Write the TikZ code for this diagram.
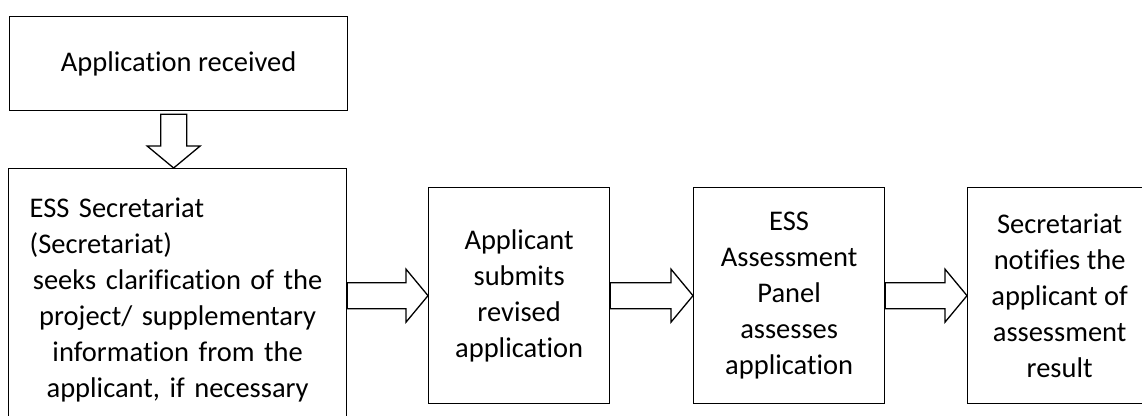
\documentclass[tikz,border=0pt]{standalone}
\usepackage{fontspec}
\setmainfont{Carlito}[Ligatures=CommonOff]
\usetikzlibrary{calc}

\tikzset{
  box/.style={draw, line width=1.3pt, anchor=north west, align=center,
    minimum height=216, font=\fontsize{28.5}{36}\selectfont},
  blockline/.style={draw, line width=1.3pt, fill=white}
}

% hollow block arrow from one point to another
\newcommand{\hollowarrow}[2]{%
  \path[blockline] let \p1=(#1), \p2=(#2),
    \n1={veclen(\x2-\x1,\y2-\y1)}, \n2={atan2(\y2-\y1,\x2-\x1)} in
    [shift={(\p1)}, rotate=\n2]
    (0pt,13pt) -- (\n1-22pt,13pt) -- (\n1-22pt,26.5pt) -- (\n1,0pt)
    -- (\n1-22pt,-26.5pt) -- (\n1-22pt,-13pt) -- (0pt,-13pt) -- cycle;
}

\begin{document}
\begin{tikzpicture}[x=1pt, y=-1pt]

\useasboundingbox (0,0) rectangle (1142,415);
\fill[white] (0,0) rectangle (1142,415);
\clip (0,0) rectangle (1142,415);

% Boxes
\node[box, minimum width=338, minimum height=94] (recv) at (9,16) {Application received};
\node[box, minimum width=338, minimum height=262, text width=302, inner sep=18] (ess) at (8,168)
  {\hspace*{3pt}\makebox[299pt][l]{ESS Secretariat}\\
   \hspace*{3pt}\makebox[299pt][l]{(Secretariat)}\\
   seeks clarification of the\\
   project/ supplementary\\
   information from the\\
   applicant, if necessary};
\node[box, minimum width=181] (submit) at (428,187) {Applicant\\ submits\\ revised\\ application};
\node[box, minimum width=191] (panel) at (693,187) {ESS\\ Assessment\\ Panel\\ assesses\\ application};
\node[box, minimum width=184] (notify) at (967,187) {Secretariat\\ notifies the\\ applicant of\\ assessment\\ result};

% Arrows
\coordinate (downtop) at ([shift={(-5,3)}]recv.south);
\coordinate (downtip) at (downtop |- ess.north);
\hollowarrow{downtop}{downtip}
\hollowarrow{ess.east |- submit.west}{submit.west}
\hollowarrow{submit.east}{panel.west}
\hollowarrow{panel.east}{notify.west}

\end{tikzpicture}
\end{document}
